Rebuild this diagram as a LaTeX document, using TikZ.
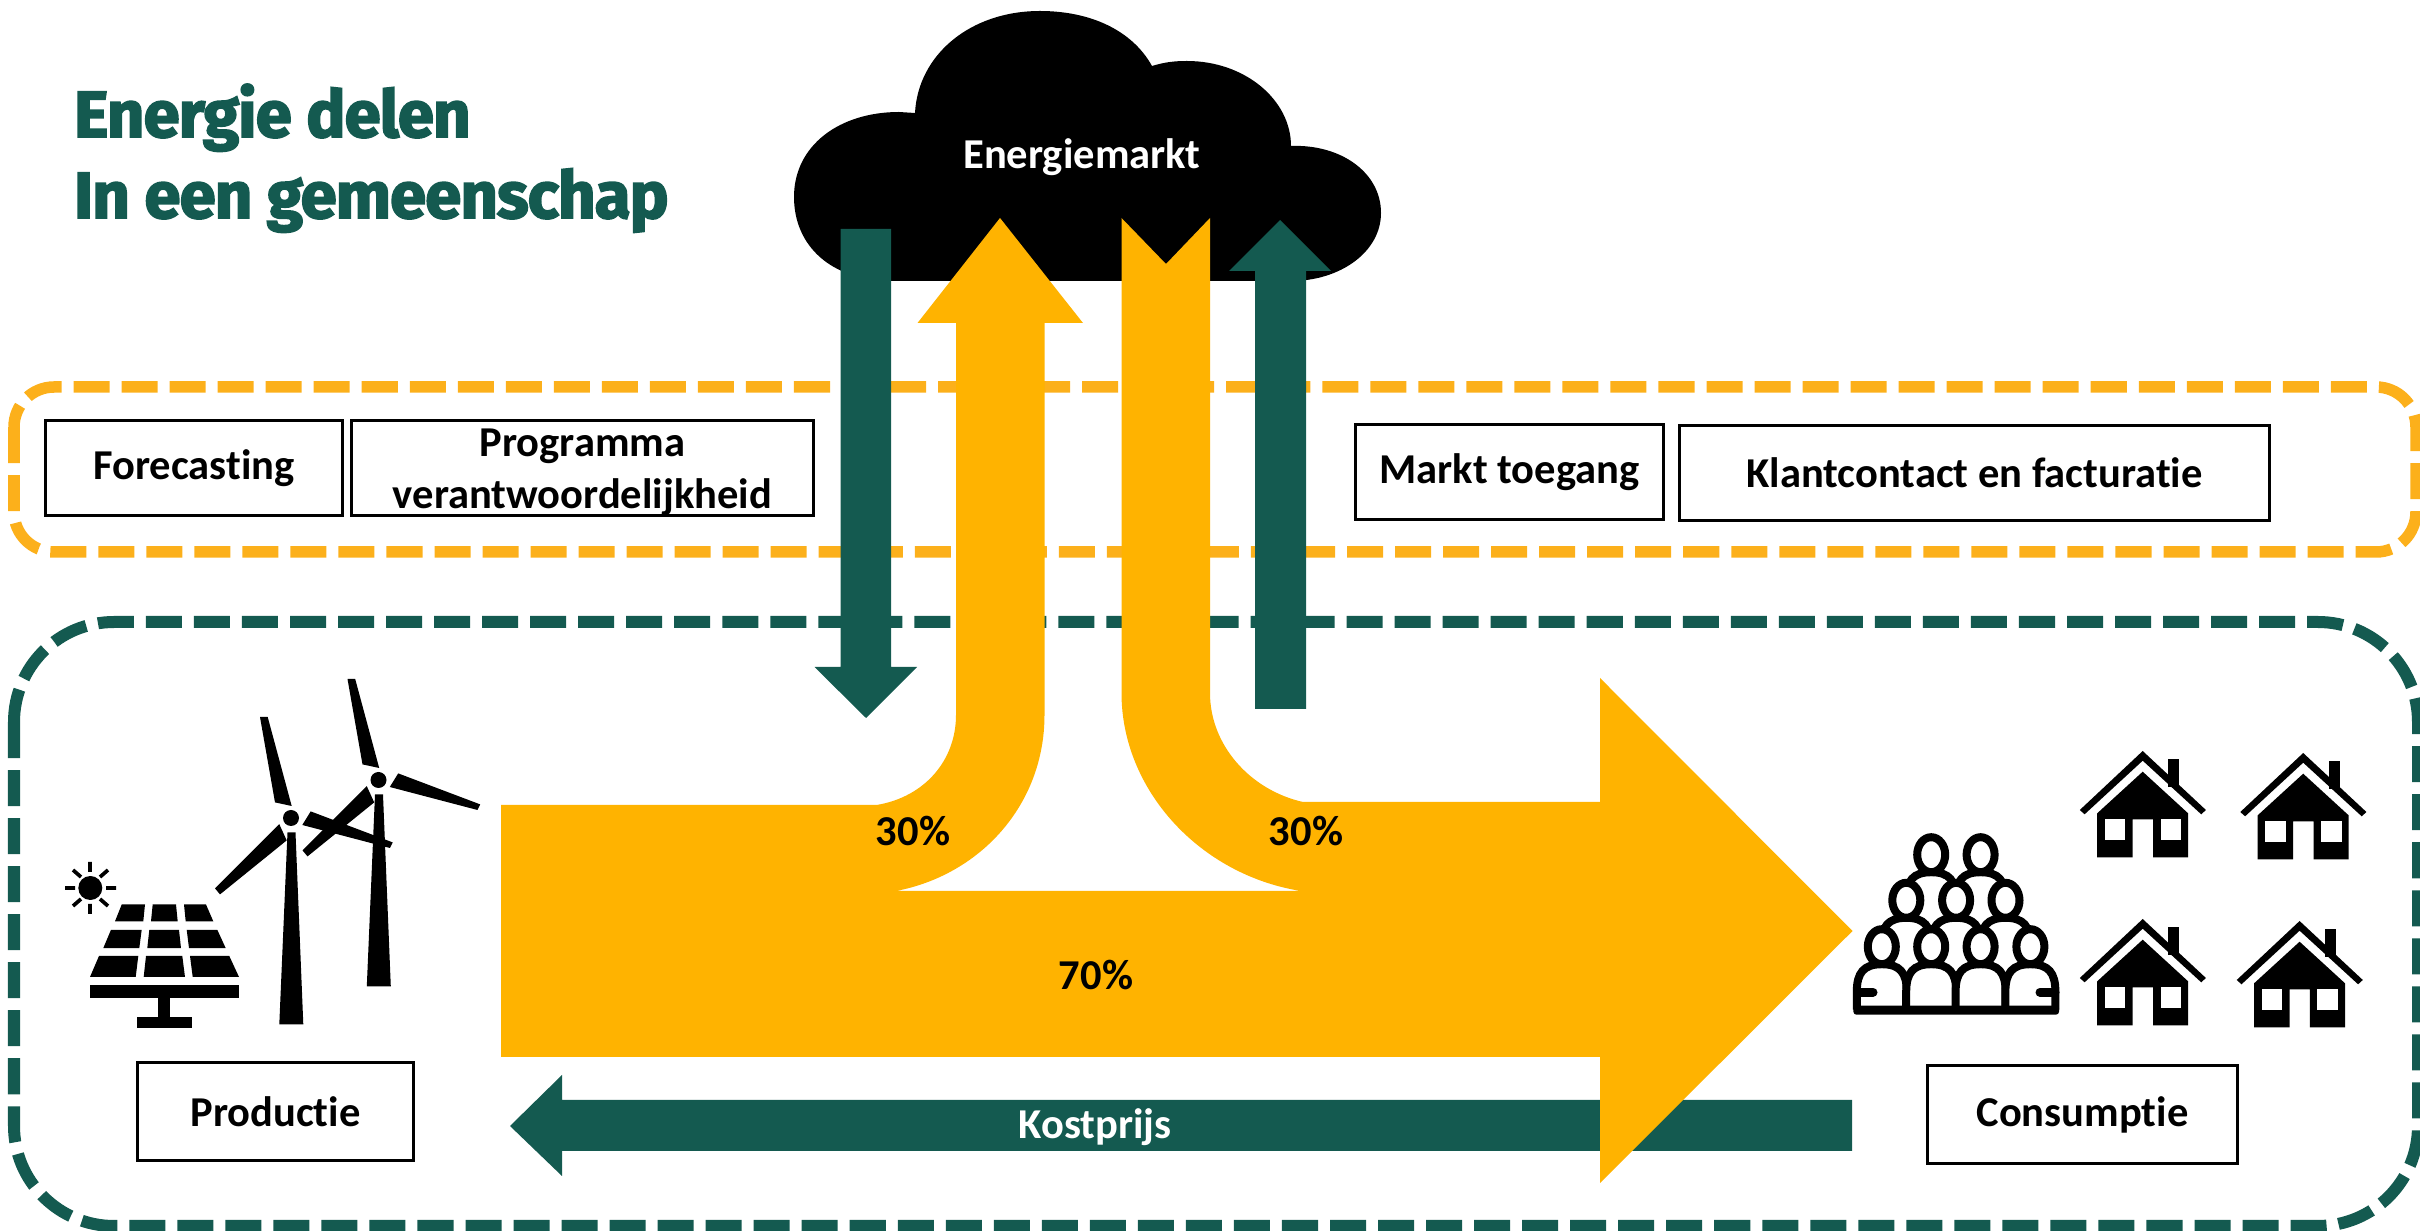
\documentclass[tikz,border=0pt]{standalone}
\usepackage{fontspec}
\setmainfont{Carlito}[Ligatures=NoCommon]
\newfontfamily\titelfont[FakeBold=2.6,LetterSpace=-1.5]{Fira Sans Bold}
\usepackage{tikz}
\usetikzlibrary{calc}
\definecolor{groen}{HTML}{145A50}
\definecolor{oranje}{HTML}{FFB300}
\definecolor{streep}{HTML}{FCB01B}
\tikzset{
  tekst/.style={inner sep=0, outer sep=0, font=\bfseries\fontsize{12.1}{14.8}\selectfont, align=center},
  vak/.style={tekst, draw=black, line width=0.03cm, fill=white},
  titel/.style={inner sep=0, outer sep=0, anchor=base west, text=groen, font=\titelfont\fontsize{18.6}{22}\selectfont},
}
\newcommand{\huis}[2]{
  \begin{scope}[shift={(#1,#2)}]
    \fill (0,20.7) -- (-45.5,62.3) -- (-45.5,106.3) -- (-10,106.3) -- (-10,68.3) -- (10.3,68.3) -- (10.3,106.3) -- (45.4,106.3) -- (45.4,62.3) -- cycle;
    \fill [white] (-38,68.3) rectangle (-17.4,89);
    \fill [white] (17.8,68.3) rectangle (38.3,89);
    \fill (0,0) -- (-62.9,59) -- (-58.1,63.3) -- (0,9.7) -- (58.5,63.3) -- (63.2,59) -- cycle;
    \fill (25.7,8) rectangle (36.7,36);
  \end{scope}
}
\newcommand{\persoon}[2]{
  \begin{scope}[shift={(#1,#2)}]
    \draw [line width=0.08cm, fill=white] (-25,63) -- (-25,45) .. controls (-25,26) and (-18,17.5) .. (0,17.5) .. controls (18,17.5) and (25,26) .. (25,45) -- (25,63);
    \draw [line width=0.08cm, fill=white] (0,0) ellipse [x radius=14, y radius=17.5];
  \end{scope}
}
\newcommand{\molen}[2]{
  \begin{scope}[shift={(#1,#2)}]
    \fill (-3.5,14.5) -- (4.5,14.5) -- (12.3,206.4) -- (-11.7,206.4) -- cycle;
    \fill (0,0) circle (8);
    \fill (-31,-101) -- (-23.3,-101) -- (0.7,-12) -- (-16,-15.6) -- cycle;
    \fill (11.3,7) -- (19.7,-6.6) -- (101.7,24.4) -- (99,30) -- cycle;
    \fill (-11.7,6.2) -- (-4.3,22.4) -- (-71,76.4) -- (-76,70.4) -- cycle;
  \end{scope}
}
\begin{document}
\begin{tikzpicture}[x=0.01cm, y=-0.01cm]
      \useasboundingbox (0,0) rectangle (2420,1231);
      \draw [groen, line width=0.12cm, dash pattern=on 0.36cm off 0.12cm, rounded corners=1cm] (14,622) rectangle (2418,1226);
      \draw [streep, line width=0.115cm, dash pattern=on 0.36cm off 0.12cm, rounded corners=0.4cm] (14,387) rectangle (2416,552);

      \fill (893,281) .. controls (830,281) and (794,245) .. (794,197) .. controls (794,145) and (840,112) .. (899,112) -- (915,113) .. controls (918,55) and (970,11) .. (1040,11) .. controls (1090,11) and (1132,30) .. (1152,66) .. controls (1165,62) and (1175,61) .. (1187,61) .. controls (1245,61) and (1291,100) .. (1291,146) .. controls (1340,144) and (1381,172) .. (1381,213) .. controls (1381,252) and (1340,281) .. (1291,281) -- cycle;
      \node [tekst, text=white] (markt) at (1082,157) {Energiemarkt};

      \fill [groen] (840.5,229) -- (891,229) -- (891,667) -- (917,667) -- (866,718) -- (814.5,667) -- (840.5,667) -- cycle;
      \fill [groen] (1255,709) -- (1255,271) -- (1229,271) -- (1280,220) -- (1331,271) -- (1306,271) -- (1306,709) -- cycle;
      \fill [groen] (1852,1100) -- (1852,1151) -- (562,1151) -- (562,1176) -- (510,1126) -- (562,1075) -- (562,1100) -- cycle;

      \fill [oranje] (501,805) -- (876.5,805) .. controls (925,797) and (956,760) .. (956,715) -- (956,323) -- (917.5,323) -- (1000,218) -- (1083,323) -- (1044.5,323) -- (1044.5,715) .. controls (1044.5,805) and (980,875) .. (896,891) -- (1301,891) .. controls (1200,875) and (1121.5,790) .. (1121.5,693) -- (1121.5,218) -- (1166,264) -- (1210,218) -- (1210,693) .. controls (1210,745) and (1250,790) .. (1303,802) -- (1600,802) -- (1600,678) -- (1852.5,931) -- (1600,1183) -- (1600,1057) -- (501,1057) -- cycle;

      \node [tekst] (links) at (913,831) {30\%};
      \node [tekst] (rechts) at (1306,831) {30\%};
      \node [tekst] (midden) at (1096,975) {70\%};
      \node [tekst, text=white] (kost) at (1095,1127) {Kostprijs};

      \node [titel] (titel1) at (74,137) {Energie delen};
      \node [titel] (titel2) at (74,218) {In een gemeenschap};

      \node [vak, minimum width=2.96cm, minimum height=0.94cm] (fore) at (194,468) {Forecasting};
      \node [vak, minimum width=4.61cm, minimum height=0.94cm] (prog) at (582.5,468) {};
      \node [tekst] (progtekst) at (582.5,472) {Programma\\verantwoordelijkheid};
      \node [vak, minimum width=3.07cm, minimum height=0.94cm] (toe) at (1509.5,472) {Markt toegang};
      \node [vak, minimum width=5.89cm, minimum height=0.94cm] (klant) at (1974.5,473) {Klantcontact en facturatie};
      \node [vak, minimum width=2.75cm, minimum height=0.98cm] (prod) at (275.5,1111.5) {Productie};
      \node [vak, minimum width=3.09cm, minimum height=0.98cm] (cons) at (2082.5,1114.5) {Consumptie};

      \molen{378.5}{780}
      \molen{291}{818}

      \fill (90.3,888) circle (12);
      \draw [line width=0.037cm] (90,862) -- (90,872) (90,904) -- (90,914) (65,888) -- (75,888) (106,888) -- (116,888) (73,870) -- (81,877) (108,870) -- (100,877) (73,906) -- (81,899) (108,906) -- (100,899);
      \fill (121.7,904.5) -- (145,904.5) -- (143.3,921.3) -- (115,921.3) -- cycle;
      \fill (152.7,904.5) -- (176,904.5) -- (177.7,921.3) -- (151,921.3) -- cycle;
      \fill (184,904.5) -- (206,904.5) -- (213.3,921.3) -- (185.7,921.3) -- cycle;
      \fill (111,929.8) -- (141.7,929.8) -- (139.3,948.1) -- (103.3,948.1) -- cycle;
      \fill (149.3,929.8) -- (179,929.8) -- (181,948.1) -- (147.3,948.1) -- cycle;
      \fill (186.7,929.8) -- (217.3,929.8) -- (225.7,948.1) -- (189,948.1) -- cycle;
      \fill (99,956) -- (138.3,956) -- (135.7,977) -- (90,977) -- cycle;
      \fill (146,956) -- (182.3,956) -- (185,977) -- (143.7,977) -- cycle;
      \fill (190,956) -- (229.3,956) -- (239,977) -- (192.7,977) -- cycle;
      \fill (89.7,985.5) rectangle (239,998);
      \fill (158.3,998) rectangle (170.3,1017);
      \fill (137.3,1016.7) rectangle (191.7,1028.4);

      \foreach \x in {1931.2,1980.6} {\persoon{\x}{854.7}}
      \foreach \x in {1906.3,1956.1,2005.5} {\persoon{\x}{900.3}}
      \foreach \x in {1881.8,1931.2,1980.6,2030.4} {\persoon{\x}{946.7}}
      \fill [rounded corners=0.03cm] (1853.4,1005.7) rectangle (2059,1014.7);
      \draw [line width=0.09cm, line cap=round] (1858,992.2) -- (1873,992.2) (2040,992.2) -- (2055,992.2);

      \huis{2142.7}{751}
      \huis{2303.2}{753}
      \huis{2142.7}{919}
      \huis{2299.6}{921}
\end{tikzpicture}
\end{document}
